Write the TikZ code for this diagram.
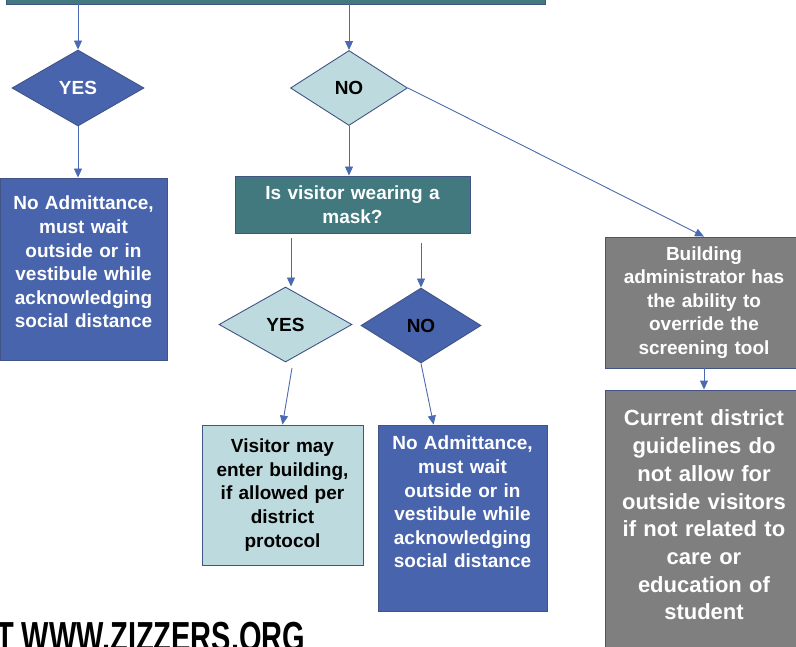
\documentclass[tikz,border=0pt]{standalone}
\usepackage{fontspec}
\setmainfont{Liberation Sans}
\usetikzlibrary{shapes.geometric,arrows.meta,calc}

\definecolor{darkblue}{RGB}{72,100,172}
\definecolor{maskteal}{RGB}{65,121,127}
\definecolor{paleblue}{RGB}{189,219,223}
\definecolor{boxgray}{RGB}{127,127,127}
\definecolor{arrowblue}{RGB}{76,106,178}
\definecolor{edgeblue}{RGB}{66,84,132}

\tikzset{
  base/.style={draw=edgeblue, line width=0.9pt, align=center, inner sep=3pt,
    font=\bfseries\fontsize{19}{23.6}\selectfont},
  darkbox/.style={base, rectangle, fill=darkblue, text=white},
  lightbox/.style={base, rectangle, fill=paleblue, text=black},
  tealbox/.style={base, rectangle, fill=maskteal, text=white},
  graybox/.style={base, rectangle, fill=boxgray, text=white},
  darkdiamond/.style={base, diamond, inner sep=0pt, fill=darkblue, text=white},
  lightdiamond/.style={base, diamond, inner sep=0pt, fill=paleblue, text=black},
  flow/.style={draw=arrowblue, line width=0.9pt, -{Triangle[length=9pt,width=8pt]}}
}

\begin{document}
\begin{tikzpicture}[x=1pt,y=-1pt]
  \useasboundingbox (0,0) rectangle (796,647);
  \clip (0,0) rectangle (796,647);

  % first question (cut off at the top)
  \node[tealbox, minimum width=539pt, minimum height=40pt] (screen) at (275.5,-16) {};

  \node[darkdiamond, minimum width=132pt, minimum height=76pt] (yes1) at (78,88) {YES};
  \node[lightdiamond, minimum width=117pt, minimum height=75pt] (no1) at (349,88) {NO};

  \node[darkbox, minimum width=167pt, minimum height=182pt, text width=160pt, text depth=132pt]
    (admit1) at (83.5,269) {No Admittance,\\ must wait\\ outside or in\\ vestibule while\\ acknowledging\\ social distance};

  \node[tealbox, minimum width=235pt, minimum height=57pt, text width=226pt]
    (mask) at (352.5,204.5) {Is visitor wearing a\\ mask?};

  % mask answers
  \node[lightdiamond, minimum width=133pt, minimum height=75pt] (yes2) at (285.5,324.5) {YES};
  \node[darkdiamond, text=black, minimum width=120pt, minimum height=75pt] (no2) at (421,325.5) {NO};

  \node[lightbox, minimum width=161pt, minimum height=140pt, text width=154pt]
    (visitor) at (282.5,495) {Visitor may\\ enter building,\\ if allowed per\\ district\\ protocol};
  \node[darkbox, minimum width=169pt, minimum height=186pt, text width=162pt, text depth=150pt]
    (admit2) at (462.5,518) {No Admittance,\\ must wait\\ outside or in\\ vestibule while\\ acknowledging\\ social distance};

  % override column
  \node[graybox, minimum width=198pt, minimum height=131pt, text width=188pt]
    (admin) at (704,302.5) {Building\\ administrator has\\ the ability to\\ override the\\ screening tool};
  \node[graybox, font=\bfseries\fontsize{22}{27.7}\selectfont, minimum width=198pt, minimum height=265pt,
    text width=188pt, text depth=209pt]
    (current) at (704,522.5) {Current district\\ guidelines do\\ not allow for\\ outside visitors\\ if not related to\\ care or\\ education of\\ student};

  \node[anchor=north west, inner sep=0pt, xscale=0.69, font=\bfseries\fontsize{42}{42}\selectfont]
    (site) at (-4,622) {T WWW.ZIZZERS.ORG};

  % connectors
  \coordinate (maskleft) at (291,238);
  \coordinate (maskright) at (421,243);
  \coordinate (yesout) at (292,368);

  \draw[flow] (yes1.north |- screen.south) -- (yes1.north);
  \draw[flow] (no1.north |- screen.south) -- (no1.north);
  \draw[flow] (yes1.south) -- (yes1.south |- admit1.north);
  \draw[flow] (no1.south) -- (no1.south |- mask.north);
  \draw[flow] (no1.east) -- (admin.north);
  \draw[flow] (admin.south) -- (current.north);
  \draw[flow] (maskleft) -- (maskleft |- yes2.north);
  \draw[flow] (maskright) -- (no2.north);
  \draw[flow] (yesout) -- (visitor.north);
  \draw[flow] (no2.south) -- ($(admit2.north west)!0.33!(admit2.north east)$);
\end{tikzpicture}
\end{document}
